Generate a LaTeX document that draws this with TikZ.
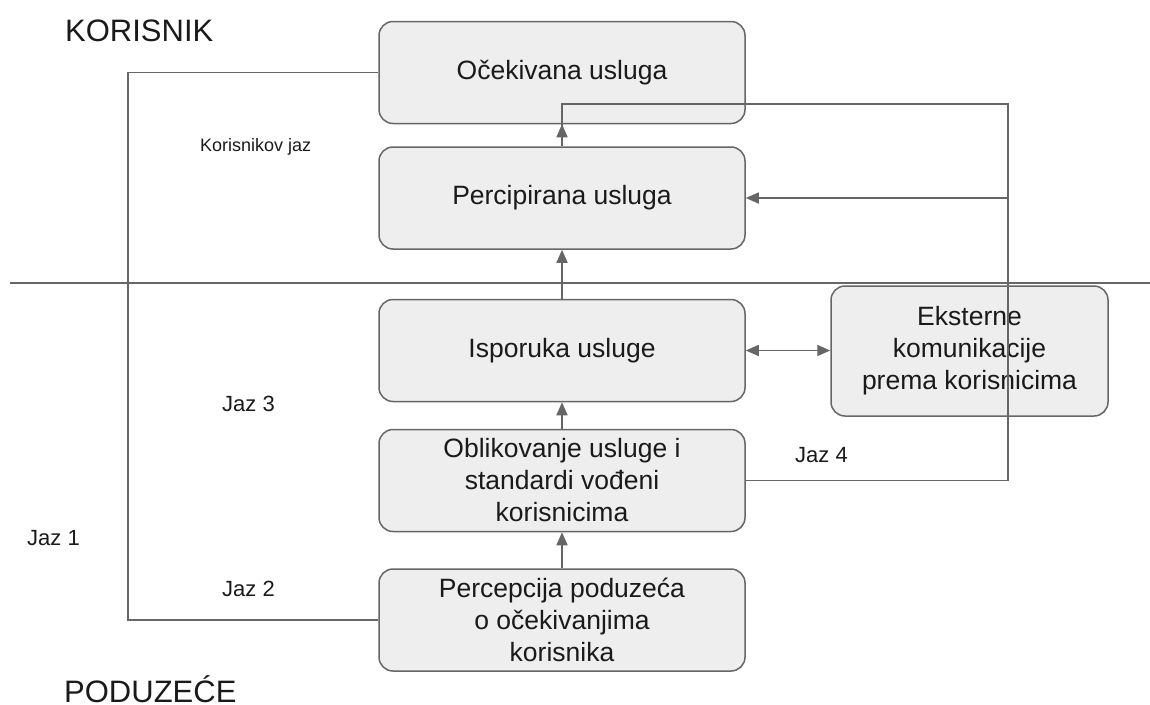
\documentclass[tikz,border=0pt]{standalone}
\usepackage{fontspec}
\setmainfont{Liberation Sans}
\usetikzlibrary{arrows.meta}
\definecolor{gapGray}{RGB}{102,102,102}
\definecolor{gapFill}{RGB}{238,238,238}
\definecolor{gapText}{RGB}{26,26,26}

\begin{document}
\begin{tikzpicture}[x=1pt, y=-1pt]
            \tikzstyle{stage} = [draw=gapGray, fill=gapFill, line width=1.5pt, rounded corners=14pt, minimum width=366pt, minimum height=102pt, inner sep=0pt, align=center, text=gapText, font=\fontsize{26.5}{32}\selectfont]
            \tikzstyle{arrow} = [-{Triangle[length=13pt,width=11pt]}, line width=1.6pt, gapGray]
            \tikzstyle{link} = [line width=1.6pt, gapGray]
            \tikzstyle{gap} = [anchor=base west, inner sep=0pt, text=gapText, font=\fontsize{22}{26}\selectfont]
            \tikzstyle{side} = [anchor=base west, inner sep=0pt, text=gapText, font=\fontsize{31}{36}\selectfont]

            \useasboundingbox (0,0) rectangle (1150,704);

            % korisnik
            \node[stage] (expected) at (562,72.5) {Očekivana usluga};
            \node[stage] (perceived) at (562,198) {Percipirana usluga};

            % poduzece
            \node[stage] (delivery) at (562,350.5) {Isporuka usluge};
            \node[stage, minimum width=277pt, minimum height=130pt] (external) at (969.5,351) {Eksterne\\komunikacije\\prema korisnicima};
            \node[stage] (design) at (562,480.5) {Oblikovanje usluge i\\standardi vođeni\\korisnicima};
            \node[stage] (companyview) at (562,620) {Percepcija poduzeća\\o očekivanjima\\korisnika};

            \node[side] (customer) at (65,41) {KORISNIK};
            \node[side] (company) at (64,702) {PODUZEĆE};
            \node[gap, font=\fontsize{18}{22}\selectfont] (gapcust) at (200,151) {Korisnikov jaz};
            \node[gap] (gap1) at (27,545) {Jaz 1};
            \node[gap] (gap2) at (222,596) {Jaz 2};
            \node[gap] (gap3) at (222,411) {Jaz 3};
            \node[gap] (gap4) at (795,462) {Jaz 4};

            \coordinate (sepleft) at (10,283);
            \coordinate (sepright) at (1150,283);
            \coordinate (leftbend) at (128,0);
            \coordinate (rightbend) at (1008,104);

            \draw[link, line width=1.3pt] (sepleft) -- (sepright);

            \draw[arrow] (perceived) -- (expected);
            \draw[arrow] (delivery) -- (perceived);
            \draw[arrow] (design) -- (delivery);
            \draw[arrow] (companyview) -- (design);
            \draw[arrow, {Triangle[length=13pt,width=11pt]}-{Triangle[length=13pt,width=11pt]}] (delivery.east) -- (delivery.east -| external.west);

            \draw[link] (expected.west) -- (expected.west -| leftbend) |- (companyview.west);
            \draw[link] (design.east) -| (rightbend) -| (perceived.north);
            \draw[arrow] (rightbend |- perceived.east) -- (perceived.east);
        \end{tikzpicture}
\end{document}
